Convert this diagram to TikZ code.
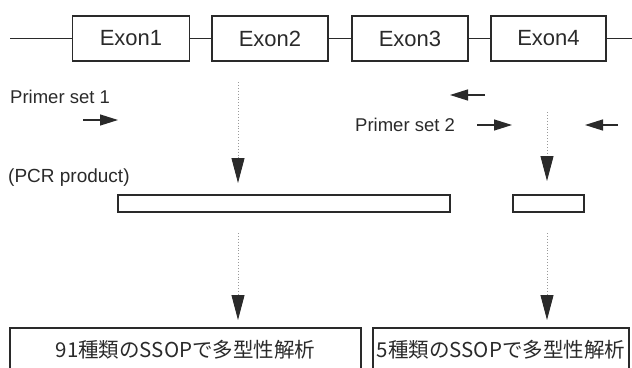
\documentclass[tikz,border=0pt]{standalone}
\usepackage{fontspec}
\setmainfont{Liberation Sans}
\newfontfamily\cjk{Noto Sans CJK JP}
\usetikzlibrary{arrows.meta}
\definecolor{ink}{HTML}{2A2A2A}
\definecolor{dotc}{HTML}{9A9A9A}
\begin{document}
\begin{tikzpicture}[x=1pt,y=-1pt,
  exonbox/.style={draw=ink, line width=1.6pt, minimum width=116pt, minimum height=45pt,
    inner sep=0pt, text=ink, font=\fontsize{22}{24}\selectfont},
  lbl/.style={text=ink, inner sep=0pt, anchor=west, font=\fontsize{18.5}{20}\selectfont},
  barbox/.style={draw=ink, line width=1.8pt, minimum height=17pt, inner sep=0pt},
  resbox/.style={draw=ink, line width=1.6pt, minimum height=44pt, inner sep=0pt, text=ink,
    font=\cjk\fontsize{20.5}{23}\selectfont},
  gene/.style={draw=ink, line width=1.4pt},
  primer/.style={draw=ink, line width=1.3pt, -{Triangle[length=18pt,width=11pt]}},
  flow/.style={draw=dotc, line width=0.9pt, dotted, -{Triangle[length=25pt,width=13pt,color=ink,fill=ink]}}
]
\useasboundingbox (0,0) rectangle (632,367);
\clip (0,0) rectangle (632,367);

% gene line
\coordinate (gs) at (10,38.5);
\coordinate (ge) at (634,38.5);
\node[exonbox, minimum width=117pt] (e1) at (131,38.5) {Exon1};
\node[exonbox] (e2) at (270,38.5) {Exon2};
\node[exonbox] (e3) at (410,38.5) {Exon3};
\node[exonbox, minimum width=115pt] (e4) at (548.5,38.5) {Exon4};
\draw[gene] (gs) -- (e1.west);
\draw[gene] (e1.east) -- (e2.west);
\draw[gene] (e2.east) -- (e3.west);
\draw[gene] (e3.east) -- (e4.west);
\draw[gene] (e4.east) -- (ge);

% labels
\node[lbl] (ps1) at (10,97) {Primer set 1};
\node[lbl] (ps2) at (355,125) {Primer set 2};
\node[lbl, font=\fontsize{19}{21}\selectfont] (pcr) at (8,178) {(PCR product)};

% primers
\coordinate (p1a) at (83,120);  \coordinate (p1b) at (118,120);
\coordinate (p2a) at (485,95);  \coordinate (p2b) at (450,95);
\coordinate (p3a) at (477,125); \coordinate (p3b) at (512,125);
\coordinate (p4a) at (618,125); \coordinate (p4b) at (585,125);
\draw[primer] (p1a) -- (p1b);
\draw[primer] (p2a) -- (p2b);
\draw[primer] (p3a) -- (p3b);
\draw[primer] (p4a) -- (p4b);

% PCR products
\node[barbox, minimum width=332pt] (b1) at (284,203.5) {};
\node[barbox, minimum width=71pt] (b2) at (548.5,203.5) {};

% result boxes
\node[resbox, minimum width=351pt] (r1) at (185.5,350) {91種類のSSOPで多型性解析};
\node[resbox, minimum width=256pt] (r2) at (501,350) {5種類のSSOPで多型性解析};

% flow arrows
\coordinate (f1a) at (238,82);  \coordinate (f1b) at (238,183);
\coordinate (f2a) at (547,112); \coordinate (f2b) at (547,181);
\coordinate (f3a) at (238,233); \coordinate (f3b) at (238,320);
\coordinate (f4a) at (547,233); \coordinate (f4b) at (547,320);
\draw[flow] (f1a) -- (f1b);
\draw[flow] (f2a) -- (f2b);
\draw[flow] (f3a) -- (f3b);
\draw[flow] (f4a) -- (f4b);
\end{tikzpicture}
\end{document}
